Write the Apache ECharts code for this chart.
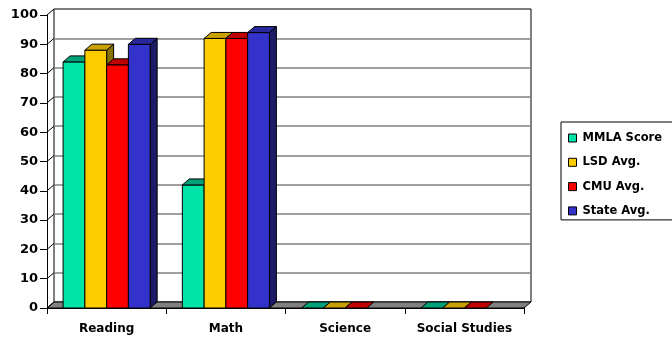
<!DOCTYPE html>
<html>
<head>
<meta charset="utf-8">
<script src="https://cdn.jsdelivr.net/npm/echarts@6/dist/echarts.min.js"></script>
<style>
  html, body { margin: 0; padding: 0; background: #fff; }
  #chart { width: 672px; height: 341px; }
</style>
</head>
<body>
<div id="chart"></div>
<script>
// scores per subject
const categories = ['Reading', 'Math', 'Science', 'Social Studies'];
const mmlaScore = [84, 42, 0, 0];
const lsdAvg = [88, 92, 0, 0];
const cmuAvg = [83, 92, 0, 0];
const stateAvg = [90, 94, null, null];
const yTicks = [0, 10, 20, 30, 40, 50, 60, 70, 80, 90, 100];

// 3d look
const DX = 7, DY = -6;
const BAR_FRAC = 0.1825;
const FONT = 'DejaVu Sans';

const seriesDefs = [
  { name: 'MMLA Score', data: mmlaScore, front: '#00E4A8', top: '#00A078', side: '#007055' },
  { name: 'LSD Avg.', data: lsdAvg, front: '#FFCC00', top: '#C8A000', side: '#857200' },
  { name: 'CMU Avg.', data: cmuAvg, front: '#FF0000', top: '#C00000', side: '#800000' },
  { name: 'State Avg.', data: stateAvg, front: '#3333CC', top: '#28289A', side: '#1C1C66' }
];

var chartDom = document.getElementById('chart');
var myChart = echarts.init(chartDom);

function barRender(idx, def) {
  return function (params, api) {
    const cat = api.value(0), val = api.value(1);
    if (val == null || isNaN(val)) return;
    const base = api.coord([cat, 0]);
    const tp = api.coord([cat, val]);
    const bw = api.size([1, 0])[0] * BAR_FRAC;
    const x0 = base[0] - 2 * bw + idx * bw;
    const x1 = x0 + bw;
    const y0 = base[1], y1 = tp[1];
    const line = { stroke: '#000', lineWidth: 1 };
    const kids = [];
    if (y0 - y1 > 0.5) {
      kids.push({ type: 'polygon', shape: { points: [[x1, y1], [x1 + DX, y1 + DY], [x1 + DX, y0 + DY], [x1, y0]] },
        style: Object.assign({ fill: def.side }, line) });
      kids.push({ type: 'rect', shape: { x: x0, y: y1, width: bw, height: y0 - y1 },
        style: Object.assign({ fill: def.front }, line) });
    }
    kids.push({ type: 'polygon', shape: { points: [[x0, y1], [x1, y1], [x1 + DX, y1 + DY], [x0 + DX, y1 + DY]] },
      style: Object.assign({ fill: def.top }, line) });
    return { type: 'group', children: kids };
  };
}

// floor + left wall tick connectors
function floorRender(params, api) {
  const cw = api.size([1, 0])[0];
  const a = api.coord([0, 0]);
  const b = api.coord([categories.length - 1, 0]);
  const xl = a[0] - cw / 2, xr = b[0] + cw / 2, y = a[1];
  const kids = [{
    type: 'polygon',
    shape: { points: [[xl, y], [xr, y], [xr + DX, y + DY], [xl + DX, y + DY]] },
    style: { fill: '#808080', stroke: '#000', lineWidth: 1 }
  }];
  yTicks.forEach(function (t) {
    const p = api.coord([0, t]);
    kids.push({ type: 'line', shape: { x1: xl, y1: p[1], x2: xl + DX, y2: p[1] + DY },
      style: { stroke: '#000', lineWidth: 1 } });
  });
  return { type: 'group', children: kids };
}

const series = [{
  type: 'custom',
  xAxisIndex: 0, yAxisIndex: 0,
  data: [[0, 0]],
  renderItem: floorRender,
  clip: false,
  silent: true,
  z: 1
}];

seriesDefs.forEach(function (def, i) {
  series.push({
    type: 'custom',
    name: def.name,
    xAxisIndex: 0, yAxisIndex: 0,
    data: def.data.map(function (v, k) { return [k, v]; }),
    encode: { x: 0, y: 1 },
    renderItem: barRender(i, def),
    itemStyle: { color: def.front, borderColor: '#000', borderWidth: 1 },
    clip: false,
    z: 3
  });
});

var option = {
  animation: false,
  backgroundColor: '#fff',
  grid: [
    { left: 47, right: 148, top: 15, bottom: 33 },
    { left: 54, right: 141, top: 9, bottom: 39, show: true, backgroundColor: '#fff', borderColor: '#000', borderWidth: 1, z: 0 }
  ],
  xAxis: [{
    type: 'category',
    gridIndex: 0,
    data: categories,
    axisLine: { lineStyle: { color: '#000', width: 1 } },
    axisTick: { show: true, length: 6, lineStyle: { color: '#000' } },
    axisLabel: { interval: 0, color: '#000', fontFamily: FONT, fontWeight: 'bold', fontSize: 12, margin: 15 },
    z: 2
  }, {
    type: 'category',
    gridIndex: 1,
    data: categories,
    show: false
  }],
  yAxis: [{
    type: 'value',
    gridIndex: 0,
    min: 0, max: 100, interval: 10,
    axisLine: { show: true, lineStyle: { color: '#000', width: 1 } },
    axisTick: { show: true, length: 7, lineStyle: { color: '#000' } },
    axisLabel: { color: '#000', fontFamily: FONT, fontWeight: 'bold', fontSize: 13, margin: 9 },
    splitLine: { show: false },
    z: 2
  }, {
    type: 'value',
    gridIndex: 1,
    min: 0, max: 100, interval: 10,
    axisLine: { show: false },
    axisTick: { show: false },
    axisLabel: { show: false },
    splitLine: { show: true, showMinLine: false, showMaxLine: false, lineStyle: { color: '#808080', width: 1.5 } }
  }],
  legend: {
    orient: 'vertical',
    left: 561, top: 122,
    padding: [10, 40, 3, 7],
    itemGap: 12.3,
    itemWidth: 8, itemHeight: 8,
    icon: 'rect',
    borderColor: '#000', borderWidth: 1,
    backgroundColor: '#fff',
    itemStyle: { borderColor: '#000', borderWidth: 1 },
    textStyle: { color: '#000', fontFamily: FONT, fontWeight: 'bold', fontSize: 11.5, padding: [0, 0, 0, 1] },
    data: seriesDefs.map(function (d) { return d.name; })
  },
  series: series
};

option && myChart.setOption(option);
</script>
</body>
</html>
